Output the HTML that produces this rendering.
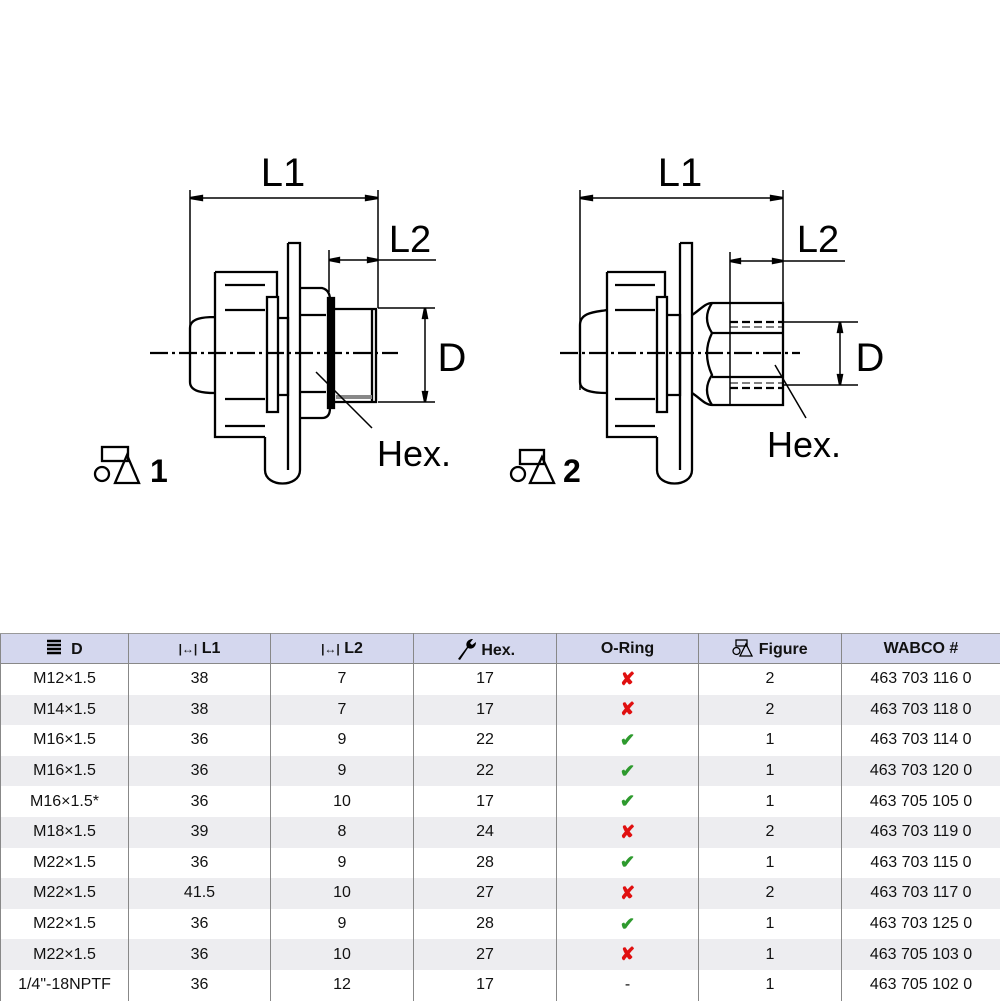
<!DOCTYPE html>
<html><head><meta charset="utf-8"><style>
body{margin:0;background:#fff;width:1000px;height:1000px;overflow:hidden;position:relative;font-family:"Liberation Sans",Arial,sans-serif}
svg.d{position:absolute;left:0;top:0}
table{position:absolute;left:0;top:633px;width:1000px;border-collapse:collapse;table-layout:fixed}
td,th{text-align:center;font-size:16px;color:#111;height:30.6px;padding:0;border-left:1px solid #888;border-right:1px solid #888}
th{background:#d4d7ee;font-weight:bold;height:29px;border-top:1px solid #999;border-bottom:1px solid #888}
tr.g td{background:#ededf0}
.x{color:#e01010;font-weight:bold;font-size:18px}
.v{color:#2e9a2e;font-weight:bold;font-size:18px}
</style></head><body>
<svg class="d" width="1000" height="630" viewBox="0 0 1000 630" fill="none" stroke="#000" stroke-width="2.3">
<g font-family="Liberation Sans,Arial,sans-serif" fill="#000" stroke="none">
<text x="283" y="186" font-size="40" text-anchor="middle">L1</text>
<text x="410" y="252" font-size="38" text-anchor="middle">L2</text>
<text x="452" y="371" font-size="40" text-anchor="middle">D</text>
<text x="377" y="466" font-size="36">Hex.</text>
<text x="150" y="482" font-size="32" font-weight="bold">1</text>
<text x="680" y="186" font-size="40" text-anchor="middle">L1</text>
<text x="818" y="252" font-size="38" text-anchor="middle">L2</text>
<text x="870" y="371" font-size="40" text-anchor="middle">D</text>
<text x="767" y="457" font-size="36">Hex.</text>
<text x="563" y="482" font-size="32" font-weight="bold">2</text>
</g>
<!-- FIG 1 -->
<path d="M190 190V330M378 190V308M190 198H378M329 250V292M329 260H436M378 308H435M378 402H435M425 308V402" stroke-width="1.5"/>
<path d="M190 198l12-2v4zM378 198l-12-2v4zM329 260l10-2v4zM378 260l-10-2v4zM425 308l-2 10h4zM425 402l-2-10h4z" fill="#000"/>
<path d="M150 353H398" stroke-dasharray="18 4 3 4"/>
<path d="M215 272H277V297M215 272V437H265M215 317C204 317 190 318 190 328V382C190 392 204 393 215 393"/>
<path d="M225 285H265M225 310H265M225 399H265M225 426H265"/>
<path d="M288 243H300V470C300 488 265 488 265 470V437M288 243V470"/>
<path d="M267 297H278V412H267ZM278 318H288V395H278Z"/>
<path d="M300 288H322Q330 290 330 300V408Q330 418 322 418H300M300 315H326M300 392H326"/>
<path d="M328 298H334V408H328Z" fill="#000"/>
<path d="M334 309H376V402H334M372 309V402" />
<path d="M336 397H372" stroke="#888" stroke-width="4"/>
<path d="M316 372L372 428" stroke-width="1.5"/>
<rect x="102" y="447" width="26" height="14"/><circle cx="102" cy="474" r="7"/><path d="M127 455L139 483H115Z"/>
<!-- FIG 2 -->
<path d="M580 190V390M783 190V303M580 198H783M730 252V405M730 261H845M783 322H858M783 385H858M840 322V385" stroke-width="1.5"/>
<path d="M580 198l12-2v4zM783 198l-12-2v4zM730 261l10-2v4zM783 261l-10-2v4zM840 322l-2 10h4zM840 385l-2-10h4z" fill="#000"/>
<path d="M560 353H800" stroke-dasharray="18 4 3 4"/>
<path d="M607 272H665V297M607 272V437H657M607 310C596 312 580 312 580 325V382C580 392 596 393 607 393"/>
<path d="M615 285H655M615 310H655M615 399H655M615 426H655"/>
<path d="M680 243H692V470C692 488 657 488 657 470V437M680 243V470"/>
<path d="M657 297H667V412H657ZM667 315H680V395H667Z"/>
<path d="M692 315C700 310 705 303 712 303H783V405H712C705 405 700 398 692 393"/>
<path d="M712 303Q702 318 712 333Q702 353 712 375Q702 390 712 405M712 333H783M712 377H783"/>
<path d="M730 322H783M730 388H783" stroke-dasharray="8 4"/>
<path d="M730 327H783M730 383H783" stroke-dasharray="8 4" stroke-width="1"/>
<path d="M775 365L806 418" stroke-width="1.5"/>
<rect x="520" y="450" width="24" height="14"/><circle cx="518" cy="474" r="7"/><path d="M542 457L554 483H530Z"/>
</svg>
<table>
<colgroup><col style="width:128px"><col style="width:142px"><col style="width:143px"><col style="width:143px"><col style="width:142px"><col style="width:143px"><col style="width:159px"></colgroup>
<tr><th><svg width="16" height="18" viewBox="0 0 16 18" style="vertical-align:-3px"><path d="M1 2H15M1 6H15M1 10H15M1 14H15" stroke="#000" stroke-width="2.5"/></svg>&nbsp; D</th><th><span style="font-size:12px">|&#8596;|</span> L1</th><th><span style="font-size:12px">|&#8596;|</span> L2</th><th><svg width="22" height="22" viewBox="0 0 22 22" style="vertical-align:-5px"><path d="M3 21L12 9C10 5 13 1 18 1L15 5L17 7L21 4C21 9 17 12 13 10L5 22Z" fill="#000"/></svg> Hex.</th><th>O-Ring</th><th><svg width="22" height="18" viewBox="0 0 22 18" style="vertical-align:-3px" fill="none" stroke="#000" stroke-width="1.3"><rect x="4" y="1" width="11" height="6"/><circle cx="4.5" cy="12" r="3.5"/><path d="M14 5L20 17H8Z"/></svg> Figure</th><th>WABCO #</th></tr>
<tr><td>M12×1.5</td><td>38</td><td>7</td><td>17</td><td class="x">✘</td><td>2</td><td>463 703 116 0</td></tr>
<tr class="g"><td>M14×1.5</td><td>38</td><td>7</td><td>17</td><td class="x">✘</td><td>2</td><td>463 703 118 0</td></tr>
<tr><td>M16×1.5</td><td>36</td><td>9</td><td>22</td><td class="v">✔</td><td>1</td><td>463 703 114 0</td></tr>
<tr class="g"><td>M16×1.5</td><td>36</td><td>9</td><td>22</td><td class="v">✔</td><td>1</td><td>463 703 120 0</td></tr>
<tr><td>M16×1.5*</td><td>36</td><td>10</td><td>17</td><td class="v">✔</td><td>1</td><td>463 705 105 0</td></tr>
<tr class="g"><td>M18×1.5</td><td>39</td><td>8</td><td>24</td><td class="x">✘</td><td>2</td><td>463 703 119 0</td></tr>
<tr><td>M22×1.5</td><td>36</td><td>9</td><td>28</td><td class="v">✔</td><td>1</td><td>463 703 115 0</td></tr>
<tr class="g"><td>M22×1.5</td><td>41.5</td><td>10</td><td>27</td><td class="x">✘</td><td>2</td><td>463 703 117 0</td></tr>
<tr><td>M22×1.5</td><td>36</td><td>9</td><td>28</td><td class="v">✔</td><td>1</td><td>463 703 125 0</td></tr>
<tr class="g"><td>M22×1.5</td><td>36</td><td>10</td><td>27</td><td class="x">✘</td><td>1</td><td>463 705 103 0</td></tr>
<tr><td>1/4"-18NPTF</td><td>36</td><td>12</td><td>17</td><td>-</td><td>1</td><td>463 705 102 0</td></tr>
</table>
</body></html>
